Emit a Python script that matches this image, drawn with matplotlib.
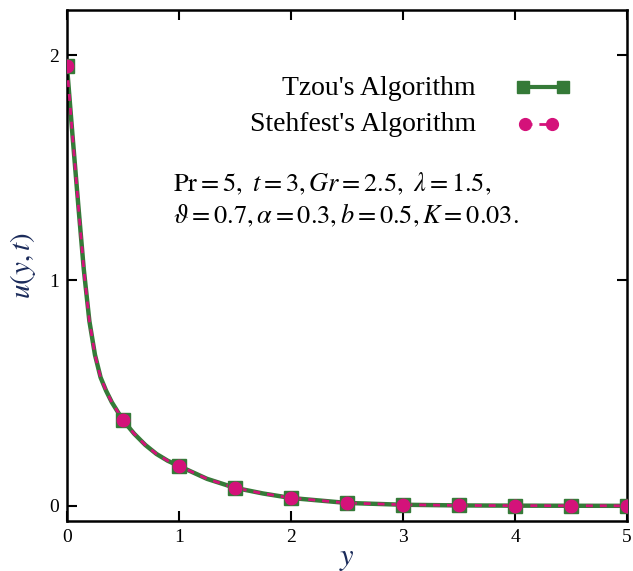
import matplotlib
matplotlib.use("Agg")
import matplotlib.pyplot as plt
from matplotlib.lines import Line2D

# curve values
y_line = [0.0, 0.05, 0.1, 0.15, 0.2, 0.25, 0.3, 0.35, 0.4, 0.5, 0.6, 0.7, 0.8, 0.9, 1.0,
          1.25, 1.5, 1.75, 2.0, 2.5, 3.0, 3.5, 4.0, 4.5, 5.0]
u_line = [1.95, 1.64, 1.34, 1.05, 0.82, 0.67, 0.57, 0.51, 0.46, 0.38, 0.32, 0.27, 0.23, 0.20, 0.177,
          0.12, 0.08, 0.055, 0.035, 0.013, 0.005, 0.002, 0.001, 0.0005, 0.0002]
# marker points
y_mark = [0.0, 0.5, 1.0, 1.5, 2.0, 2.5, 3.0, 3.5, 4.0, 4.5, 5.0]
u_tzou = [1.95, 0.38, 0.177, 0.08, 0.035, 0.013, 0.005, 0.002, 0.001, 0.0005, 0.0002]
u_steh = [1.95, 0.38, 0.177, 0.08, 0.035, 0.013, 0.005, 0.002, 0.001, 0.0005, 0.0002]
xticks = [0, 1, 2, 3, 4, 5]
yticks = [0, 1, 2]

GREEN = "#357a38"
MAG = "#d4127a"
plt.rcParams['mathtext.fontset'] = 'stix'
plt.rcParams['font.family'] = ['Liberation Serif', 'DejaVu Serif']

fig = plt.figure(figsize=(6.33, 5.71), dpi=100)
ax = fig.add_axes([0.1058, 0.0876, 0.8848, 0.8949])

ax.plot(y_line, u_line, color=GREEN, lw=3.2, solid_capstyle='butt', zorder=2)
ax.plot(y_line, u_line, color=MAG, lw=2.0, dashes=(2.5, 2.5), zorder=3)
ax.plot(y_mark, u_tzou, ls='none', marker='s', ms=10.5, mfc=GREEN, mec=GREEN, zorder=4)
ax.plot(y_mark, u_steh, ls='none', marker='o', ms=9, mfc=MAG, mec=MAG, zorder=5)

ax.set_xlim(0, 5)
ax.set_ylim(-0.067, 2.2)
ax.set_xticks(xticks)
ax.set_yticks(yticks)
ax.tick_params(direction='in', length=7, width=1.5, labelsize=14, top=True, right=True,
               pad=6)
for s in ax.spines.values():
    s.set_linewidth(1.8)

ax.set_xlabel('$y$', fontsize=22, color='#1a2a5a', labelpad=-2)
ax.set_ylabel('$u(y,t)$', fontsize=21, color='#1a2a5a', labelpad=8)

# legend (manual, text right aligned)
ax.text(0.73, 0.847, "Tzou's Algorithm", transform=ax.transAxes, ha='right', va='center', fontsize=20)
ax.text(0.73, 0.775, "Stehfest's Algorithm", transform=ax.transAxes, ha='right', va='center', fontsize=20)
l1 = Line2D([0.815, 0.885], [0.85, 0.85], transform=ax.transAxes, color=GREEN, lw=3,
            marker='s', ms=9, mfc=GREEN, mec=GREEN)
l2 = Line2D([0.818, 0.866], [0.777, 0.777], transform=ax.transAxes, color=MAG, lw=2,
            dashes=(2.5, 2.5), marker='o', ms=8.5, mfc=MAG, mec=MAG)
ax.add_line(l1)
ax.add_line(l2)

ax.text(0.19, 0.66, r'$\mathrm{Pr}=5,\ t=3, Gr=2.5,\ \lambda=1.5,$', transform=ax.transAxes,
        ha='left', va='center', fontsize=19)
ax.text(0.19, 0.598, r'$\vartheta=0.7, \alpha=0.3, b=0.5, K=0.03.$', transform=ax.transAxes,
        ha='left', va='center', fontsize=19)

fig.savefig('out.png', dpi=100)
